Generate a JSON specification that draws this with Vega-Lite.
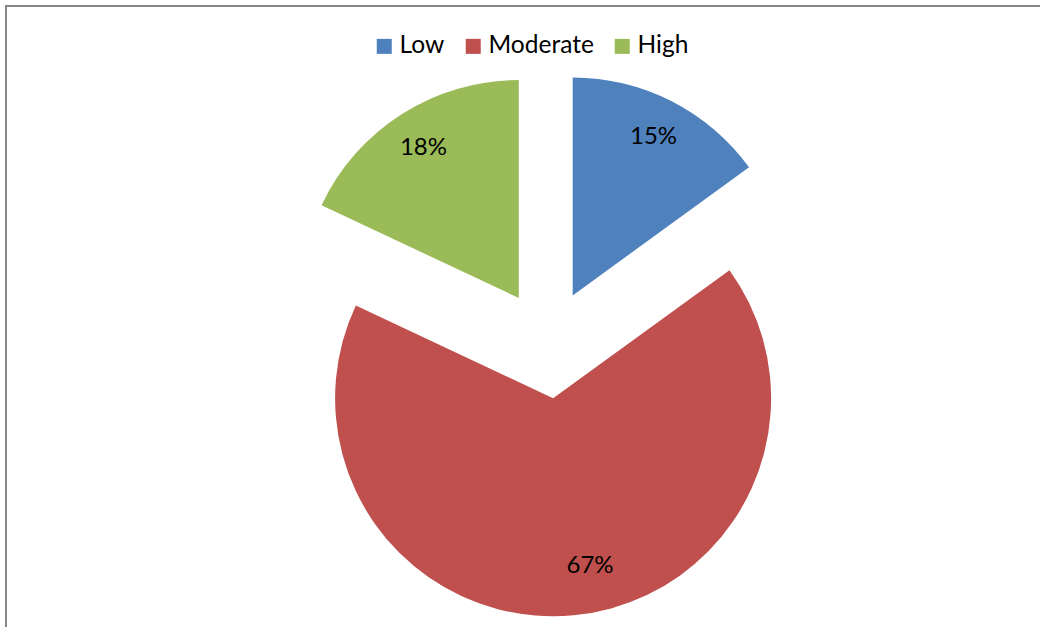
{
  "$schema": "https://vega.github.io/schema/vega-lite/v6.json",
  "width": 1084,
  "height": 676,
  "autosize": {"type": "none"},
  "padding": {"left": 6, "top": 6, "right": -50, "bottom": -55},
  "background": "white",
  "config": {
    "view": {"stroke": null},
    "font": "Lato"
  },
  "data": {
    "values": [
      {"level": "Low", "share": 15},
      {"level": "Moderate", "share": 67},
      {"level": "High", "share": 18}
    ]
  },
  "transform": [
    {"stack": "share", "groupby": [], "as": ["start", "end"]},
    {"calculate": "(datum.start + datum.end) / 2", "as": "mid"},
    {"calculate": "datum.share + '%'", "as": "label"}
  ],
  "layer": [
    {
      "data": {"values": [{}]},
      "mark": {"type": "rect", "fill": null, "stroke": "#868686", "strokeWidth": 2},
      "encoding": {}
    },
    {
      "transform": [{"filter": "datum.level === 'Low'"}],
      "layer": [
        {
          "mark": {"type": "arc", "outerRadius": 218, "xOffset": 24.7, "yOffset": -48.6},
          "encoding": {
            "theta": {"field": "start", "type": "quantitative", "scale": {"domain": [0, 100]}},
            "theta2": {"field": "end"},
            "color": {
              "field": "level", "type": "nominal",
              "scale": {"domain": ["Low", "Moderate", "High"], "range": ["#4F81BD", "#C0504D", "#9BBB59"]},
              "legend": {"title": null, "orient": "none", "direction": "horizontal", "legendX": 366, "legendY": 28, "symbolType": "square", "symbolSize": 225, "symbolStrokeWidth": 0, "labelFont": "Lato", "labelFontSize": 24.5, "labelColor": "#000000", "labelOffset": 3, "columnPadding": 16}
            }
          }
        },
        {
          "mark": {"type": "text", "radius": 178, "xOffset": 24.7, "yOffset": -48.6, "fontSize": 24, "font": "Lato", "color": "#000000"},
          "encoding": {
            "theta": {"field": "mid", "type": "quantitative"},
            "text": {"field": "label"}
          }
        }
      ]
    },
    {
      "transform": [{"filter": "datum.level === 'Moderate'"}],
      "layer": [
        {
          "mark": {"type": "arc", "outerRadius": 218, "xOffset": 5.1, "yOffset": 54.3},
          "encoding": {
            "theta": {"field": "start", "type": "quantitative", "scale": {"domain": [0, 100]}},
            "theta2": {"field": "end"},
            "color": {
              "field": "level", "type": "nominal",
              "scale": {"domain": ["Low", "Moderate", "High"], "range": ["#4F81BD", "#C0504D", "#9BBB59"]},
              "legend": {"title": null, "orient": "none", "direction": "horizontal", "legendX": 366, "legendY": 28, "symbolType": "square", "symbolSize": 225, "symbolStrokeWidth": 0, "labelFont": "Lato", "labelFontSize": 24.5, "labelColor": "#000000", "labelOffset": 3, "columnPadding": 16}
            }
          }
        },
        {
          "mark": {"type": "text", "radius": 172, "thetaOffset": -0.122, "xOffset": 5.1, "yOffset": 54.3, "fontSize": 24, "font": "Lato", "color": "#000000"},
          "encoding": {
            "theta": {"field": "mid", "type": "quantitative"},
            "text": {"field": "label"}
          }
        }
      ]
    },
    {
      "transform": [{"filter": "datum.level === 'High'"}],
      "layer": [
        {
          "mark": {"type": "arc", "outerRadius": 218, "xOffset": -29.2, "yOffset": -46.0},
          "encoding": {
            "theta": {"field": "start", "type": "quantitative", "scale": {"domain": [0, 100]}},
            "theta2": {"field": "end"},
            "color": {
              "field": "level", "type": "nominal",
              "scale": {"domain": ["Low", "Moderate", "High"], "range": ["#4F81BD", "#C0504D", "#9BBB59"]},
              "legend": {"title": null, "orient": "none", "direction": "horizontal", "legendX": 366, "legendY": 28, "symbolType": "square", "symbolSize": 225, "symbolStrokeWidth": 0, "labelFont": "Lato", "labelFontSize": 24.5, "labelColor": "#000000", "labelOffset": 3, "columnPadding": 16}
            }
          }
        },
        {
          "mark": {"type": "text", "radius": 178, "xOffset": -29.2, "yOffset": -46.0, "fontSize": 24, "font": "Lato", "color": "#000000"},
          "encoding": {
            "theta": {"field": "mid", "type": "quantitative"},
            "text": {"field": "label"}
          }
        }
      ]
    }
  ]
}
